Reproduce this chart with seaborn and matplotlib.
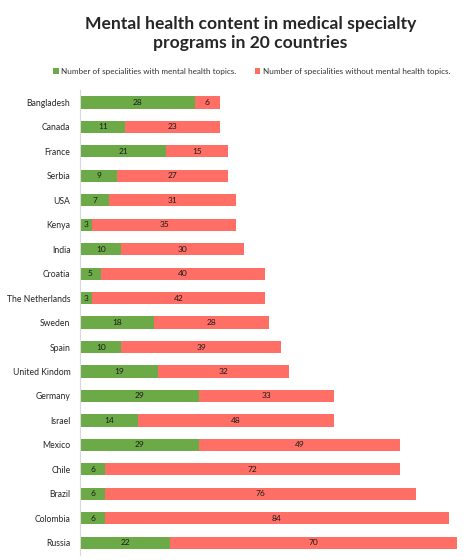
import matplotlib
matplotlib.use("Agg")
import matplotlib.pyplot as plt
import seaborn as sns
import pandas as pd

# data
countries = ["Bangladesh", "Canada", "France", "Serbia", "USA", "Kenya", "India",
             "Croatia", "The Netherlands", "Sweden", "Spain", "United Kindom",
             "Germany", "Israel", "Mexico", "Chile", "Brazil", "Colombia", "Russia"]
with_mh = [28, 11, 21, 9, 7, 3, 10, 5, 3, 18, 10, 19, 29, 14, 29, 6, 6, 6, 22]
without_mh = [6, 23, 15, 27, 31, 35, 30, 40, 42, 28, 39, 32, 33, 48, 49, 72, 76, 84, 70]

green = "#6BAA47"
red = "#FF6F66"

df = pd.DataFrame({"country": countries, "with": with_mh, "without": without_mh})
df["total"] = df["with"] + df["without"]

sns.set_style("white")
plt.rcParams["font.family"] = ["Lato", "DejaVu Sans"]

fig = plt.figure(figsize=(4.66, 5.6), dpi=100)
ax = fig.add_axes([0.172, 0.009, 0.818, 0.830])

# stacked: total (red) underneath, green on top
sns.barplot(data=df, x="total", y="country", color=red, width=0.5, linewidth=0,
            saturation=1, ax=ax, label="Number of specialities without mental health topics.")
sns.barplot(data=df, x="with", y="country", color=green, width=0.5, linewidth=0,
            saturation=1, ax=ax, label="Number of specialities with mental health topics.")

for i, row in df.iterrows():
    ax.text(row["with"] / 2, i, str(row["with"]), ha="center", va="center",
            fontsize=6, color="#1a1a1a")
    ax.text(row["with"] + row["without"] / 2, i, str(row["without"]), ha="center",
            va="center", fontsize=6, color="#1a1a1a")

ax.set_xlim(0, 93)
ax.set_ylim(18.5, -0.5)
ax.set_xlabel("")
ax.set_ylabel("")
ax.set_xticks([])
ax.tick_params(axis="y", length=0, labelsize=6.2, pad=7)
for s in ["top", "right", "bottom"]:
    ax.spines[s].set_visible(False)
ax.spines["left"].set_color("#d9d9d9")
ax.spines["left"].set_linewidth(0.8)

handles, labels = ax.get_legend_handles_labels()
if ax.legend_:
    ax.legend_.remove()
order = [1, 0]
fig.legend([handles[i] for i in order], [labels[i] for i in order],
           loc="center", bbox_to_anchor=(0.54, 0.873), ncol=2, frameon=False,
           fontsize=5.9, handlelength=0.7, handleheight=0.7, handletextpad=0.3,
           columnspacing=2.2, labelcolor="#333333")

fig.text(0.537, 0.94, "Mental health content in medical specialty\nprograms in 20 countries",
         ha="center", va="center", fontsize=12.6, fontweight="bold", linespacing=1.25)

fig.savefig("out.png", dpi=100, facecolor="white")
